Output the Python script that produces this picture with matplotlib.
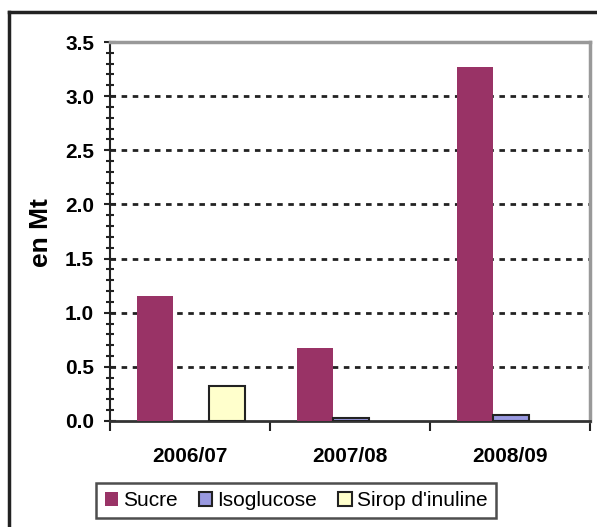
import matplotlib
matplotlib.use("Agg")
import matplotlib.pyplot as plt
from matplotlib.lines import Line2D
from matplotlib.ticker import MultipleLocator
import numpy as np

plt.rcParams['font.family'] = ['Liberation Sans', 'DejaVu Sans']

campagnes = ["2006/07", "2007/08", "2008/09"]
sucre = [1.15, 0.67, 3.27]
isoglucose = [0.0, 0.03, 0.06]
sirop = [0.32, 0.0, 0.0]

fig = plt.figure(figsize=(5.97, 5.27), dpi=100)
ax = fig.add_axes([110 / 597, 1 - 421 / 527, 480 / 597, 379 / 527])

x = np.arange(len(campagnes))
w = 0.225
x0 = x + 0.17 + w / 2
ax.bar(x0, sucre, w, color="#993366", edgecolor="none", label="Sucre", zorder=3)
ax.bar(x0 + w, isoglucose, w, color="#9999e0", edgecolor="#222222",
       linewidth=1.5, label="Isoglucose", zorder=3)
ax.bar(x0 + 2 * w, sirop, w, color="#ffffcc", edgecolor="#222222",
       linewidth=1.5, label="Sirop d'inuline", zorder=3)

leg = fig.legend(loc="center", bbox_to_anchor=(296 / 597, 1 - 500.5 / 527),
                 ncol=3, fontsize=15, frameon=True, fancybox=False,
                 handlelength=0.65, handleheight=0.65, handletextpad=0.25,
                 columnspacing=1.0, borderpad=0.4)
leg.get_frame().set_edgecolor("#222222")
leg.get_frame().set_linewidth(1.8)

# no outline on the empty bars
for p in ax.patches:
    if p.get_height() == 0:
        p.set_visible(False)

ax.set_xlim(0, 3)
ax.set_ylim(0, 3.5)

# dashed horizontal grid
for v in np.arange(0.5, 3.01, 0.5):
    ax.axhline(v, color="#222222", lw=2, ls=(0, (2, 2)), zorder=1)

ax.yaxis.set_major_locator(MultipleLocator(0.5))
ax.yaxis.set_minor_locator(MultipleLocator(0.1))
ax.yaxis.set_major_formatter(plt.FormatStrFormatter("%.1f"))
ax.tick_params(axis="y", which="major", direction="inout", length=9, width=1.5,
               labelsize=15, pad=7, color="#222222")
ax.tick_params(axis="y", which="minor", direction="inout", length=6, width=1.5,
               color="#222222")
for t in ax.get_yticklabels():
    t.set_fontweight("bold")

ax.set_xticks([0, 1, 2, 3])
ax.set_xticklabels([])
ax.set_xticks(x + 0.5, minor=True)
ax.set_xticklabels(campagnes, minor=True, fontsize=15, fontweight="bold")
ax.tick_params(axis="x", which="major", direction="out", length=7, width=1.5,
               color="#222222")
ax.tick_params(axis="x", which="minor", length=0, pad=19)

ax.spines["left"].set_color("#222222")
ax.spines["left"].set_linewidth(1.5)
ax.spines["bottom"].set_color("#333333")
ax.spines["bottom"].set_linewidth(2)
ax.spines["top"].set_color("#999999")
ax.spines["top"].set_linewidth(2.5)
ax.spines["right"].set_color("#999999")
ax.spines["right"].set_linewidth(2.5)

fig.text(41 / 597, 1 - 233 / 527, "en Mt", rotation=90, ha="center",
         va="center", fontsize=19, fontweight="bold")

# outer frame (top and left edges)
fig.add_artist(Line2D([9 / 597, 9 / 597], [0, 1 - 12 / 527], color="#222222",
                      lw=2.5, transform=fig.transFigure))
fig.add_artist(Line2D([9 / 597, 1], [1 - 12 / 527, 1 - 12 / 527], color="#222222",
                      lw=2.5, transform=fig.transFigure))

fig.savefig("out.png", dpi=100)
